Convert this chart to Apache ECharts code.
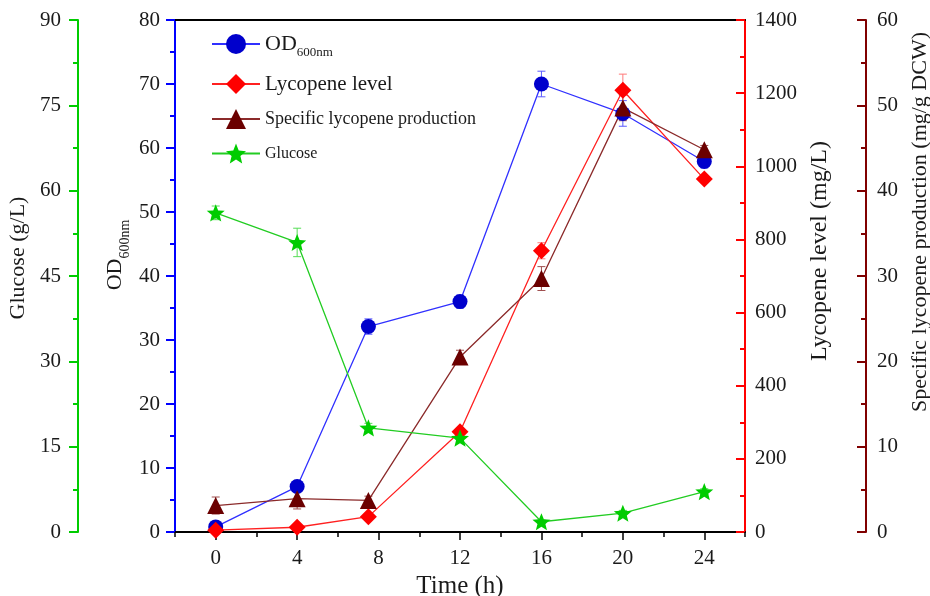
<!DOCTYPE html>
<html><head><meta charset="utf-8">
<script src="https://cdn.jsdelivr.net/npm/echarts@6/dist/echarts.min.js"></script>
<style>html,body{margin:0;padding:0;background:#fff}#c{width:930px;height:596px}</style>
</head><body><div id="c"></div>
<script>
// ---- data ----
const timeH      = [0, 4, 7.5, 12, 16, 20, 24];
const od600      = [0.8, 7.1, 32.1, 36.0, 70.0, 65.4, 57.9];
const od600Err   = [0.3, 0.5, 1.2, 1.0, 2.0, 2.0, 1.0];
const lycopene   = [5, 13, 42, 274, 769, 1208, 965];
const lycopeneErr= [0, 5, 5, 10, 22, 44, 10];
const specific   = [3.1, 3.9, 3.7, 20.5, 29.7, 49.7, 44.8];
const specificErr= [1.0, 1.2, 0.5, 0.8, 1.4, 1.5, 0.5];
const glucose    = [56.1, 50.9, 18.3, 16.5, 1.8, 3.3, 7.1];
const glucoseErr = [1.2, 2.5, 0.8, 0.5, 0.3, 0.5, 0.5];
const xTickLabels = [0, 4, 8, 12, 16, 20, 24];
const seriesNames = ['OD600nm', 'Lycopene level', 'Specific lycopene production', 'Glucose'];

const FONT = '"Liberation Serif","Times New Roman",serif';
const TXT = '#1a1a1a';
const C_OD = '#0000ff', C_LY = '#ff0000', C_SP = '#800000', C_GL = '#00cc00';
const STAR = 'path://M50,0L62.9,32.2L97.55,34.55L70.9,56.8L79.39,90.45L50,72L20.61,90.45L29.1,56.8L2.45,34.55L37.1,32.2Z';

function pairs(vals){ return timeH.map((t,i)=>[t, vals[i]]); }
function errPairs(vals, errs){ return timeH.map((t,i)=>[t, vals[i], errs[i]]); }
function errRender(color){
  return function(params, api){
    const x = api.value(0), y = api.value(1), e = api.value(2);
    if (!e) return null;
    const hi = api.coord([x, y + e]), lo = api.coord([x, y - e]);
    const w = 4, style = {stroke: color, lineWidth: 1};
    return {type:'group', children:[
      {type:'line', shape:{x1:hi[0], y1:hi[1], x2:lo[0], y2:lo[1]}, style},
      {type:'line', shape:{x1:hi[0]-w, y1:hi[1], x2:hi[0]+w, y2:hi[1]}, style},
      {type:'line', shape:{x1:lo[0]-w, y1:lo[1], x2:lo[0]+w, y2:lo[1]}, style}
    ]};
  };
}
function yAx(o){
  return {
    type:'value', position:o.pos, offset:o.offset, min:0, max:o.max, interval:o.interval,
    axisLine:{show:true, onZero:false, lineStyle:{color:o.color, width:2}},
    axisTick:{show:true, inside:o.inside, length:9, lineStyle:{color:o.color, width:2}},
    minorTick:{show:true, splitNumber:2, length:5, lineStyle:{color:o.color, width:2}},
    axisLabel:{color:TXT, fontSize:21, fontFamily:FONT, margin:o.margin, formatter:v => String(v)},
    splitLine:{show:false}, minorSplitLine:{show:false},
    name:o.name, nameLocation:'middle', nameRotate:90, nameGap:o.gap, nameMoveOverlap:o.move,
    nameTextStyle:Object.assign({color:TXT, fontSize:o.nameSize || 22, fontFamily:FONT, padding:o.pad || 0}, o.nameExtra || {})
  };
}
const axisSubRich = {
  a:{fontSize:22, lineHeight:34, fontFamily:FONT, color:TXT},
  b:{fontSize:14, lineHeight:14, verticalAlign:'bottom', fontFamily:FONT, color:TXT}
};
const legendSubRich = {
  a:{fontSize:22, lineHeight:30, fontFamily:FONT, color:TXT},
  b:{fontSize:13, lineHeight:13, verticalAlign:'bottom', fontFamily:FONT, color:TXT}
};

const chart = echarts.init(document.getElementById('c'), null, {renderer:'canvas'});
chart.setOption({
  animation:false,
  backgroundColor:'#fff',
  grid:{left:175, right:185, top:20, bottom:64, outerBoundsMode:'none'},
  legend:{
    orient:'vertical', left:211, top:33, padding:0, itemWidth:48, itemHeight:25, itemGap:14.5,
    textStyle:{fontFamily:FONT, color:TXT, fontSize:21, rich:legendSubRich},
    formatter:n => n === 'OD600nm' ? '{a|OD}{b|600nm}' : n,
    data:[
      {name:seriesNames[0]},
      {name:seriesNames[1], textStyle:{fontSize:21}},
      {name:seriesNames[2], textStyle:{fontSize:18}},
      {name:seriesNames[3], textStyle:{fontSize:16}}
    ]
  },
  xAxis:[
    {type:'value', position:'bottom', min:-2, max:26, interval:2,
     axisLine:{onZero:false, lineStyle:{color:'#000', width:2}},
     axisTick:{length:8, customValues:xTickLabels, lineStyle:{color:'#000', width:1.5}},
     axisLabel:{customValues:xTickLabels, formatter:v => xTickLabels.includes(v) ? String(v) : '',
       color:TXT, fontSize:21, fontFamily:FONT, margin:16},
     splitLine:{show:false},
     name:'Time (h)', nameLocation:'middle', nameGap:39,
     nameTextStyle:{color:TXT, fontSize:25, fontFamily:FONT}},
    {type:'value', position:'bottom', min:-2, max:26, interval:4,
     axisLine:{show:false, onZero:false}, axisTick:{length:5, lineStyle:{color:'#000', width:1.5}},
     axisLabel:{show:false}, splitLine:{show:false}},
    {type:'value', position:'top', min:-2, max:26,
     axisLine:{onZero:false, lineStyle:{color:'#000', width:2}}, axisTick:{show:false},
     axisLabel:{show:false}, splitLine:{show:false}}
  ],
  yAxis:[
    yAx({pos:'left', offset:0, max:80, interval:10, color:C_OD, inside:false, margin:15,
         name:'{a|OD}{b|600nm}', gap:43, move:false, pad:[0,0,0,42], nameExtra:{rich:axisSubRich}}),
    yAx({pos:'left', offset:97, max:90, interval:15, color:C_GL, inside:false, margin:17,
         name:'Glucose (g/L)', gap:43, pad:[0,0,0,36]}),
    yAx({pos:'right', offset:0, max:1400, interval:200, color:C_LY, inside:true, margin:10,
         name:'Lycopene level (mg/L)', gap:55, nameSize:24, pad:[0,0,0,50]}),
    yAx({pos:'right', offset:121, max:60, interval:10, color:C_SP, inside:true, margin:11,
         name:'Specific lycopene production (mg/g DCW)', gap:40, nameSize:22, pad:[0,0,0,108]})
  ],
  series:[
    {type:'custom', yAxisIndex:0, z:1, silent:true, renderItem:errRender('#5a5aff'), data:errPairs(od600, od600Err), encode:{x:0, y:1}},
    {type:'custom', yAxisIndex:2, z:1, silent:true, renderItem:errRender('#ff7a7a'), data:errPairs(lycopene, lycopeneErr), encode:{x:0, y:1}},
    {type:'custom', yAxisIndex:3, z:1, silent:true, renderItem:errRender('#a05050'), data:errPairs(specific, specificErr), encode:{x:0, y:1}},
    {type:'custom', yAxisIndex:1, z:1, silent:true, renderItem:errRender('#55dd55'), data:errPairs(glucose, glucoseErr), encode:{x:0, y:1}},
    {name:seriesNames[0], type:'line', yAxisIndex:0, z:3, data:pairs(od600), symbol:'circle', symbolSize:15,
     itemStyle:{color:'#0000cc'}, lineStyle:{color:'#3030ff', width:1.3}},
    {name:seriesNames[1], type:'line', yAxisIndex:2, z:3, data:pairs(lycopene), symbol:'diamond', symbolSize:17,
     itemStyle:{color:'#ff0000'}, lineStyle:{color:'#ff2020', width:1.3}},
    {name:seriesNames[2], type:'line', yAxisIndex:3, z:3, data:pairs(specific), symbol:'triangle', symbolSize:17,
     itemStyle:{color:'#6b0000'}, lineStyle:{color:'#8b2a2a', width:1.3}},
    {name:seriesNames[3], type:'line', yAxisIndex:1, z:3, data:pairs(glucose), symbol:STAR, symbolSize:18,
     symbolKeepAspect:true, itemStyle:{color:'#00cc00'}, lineStyle:{color:'#22cc22', width:1.3}}
  ]
});
</script></body></html>
